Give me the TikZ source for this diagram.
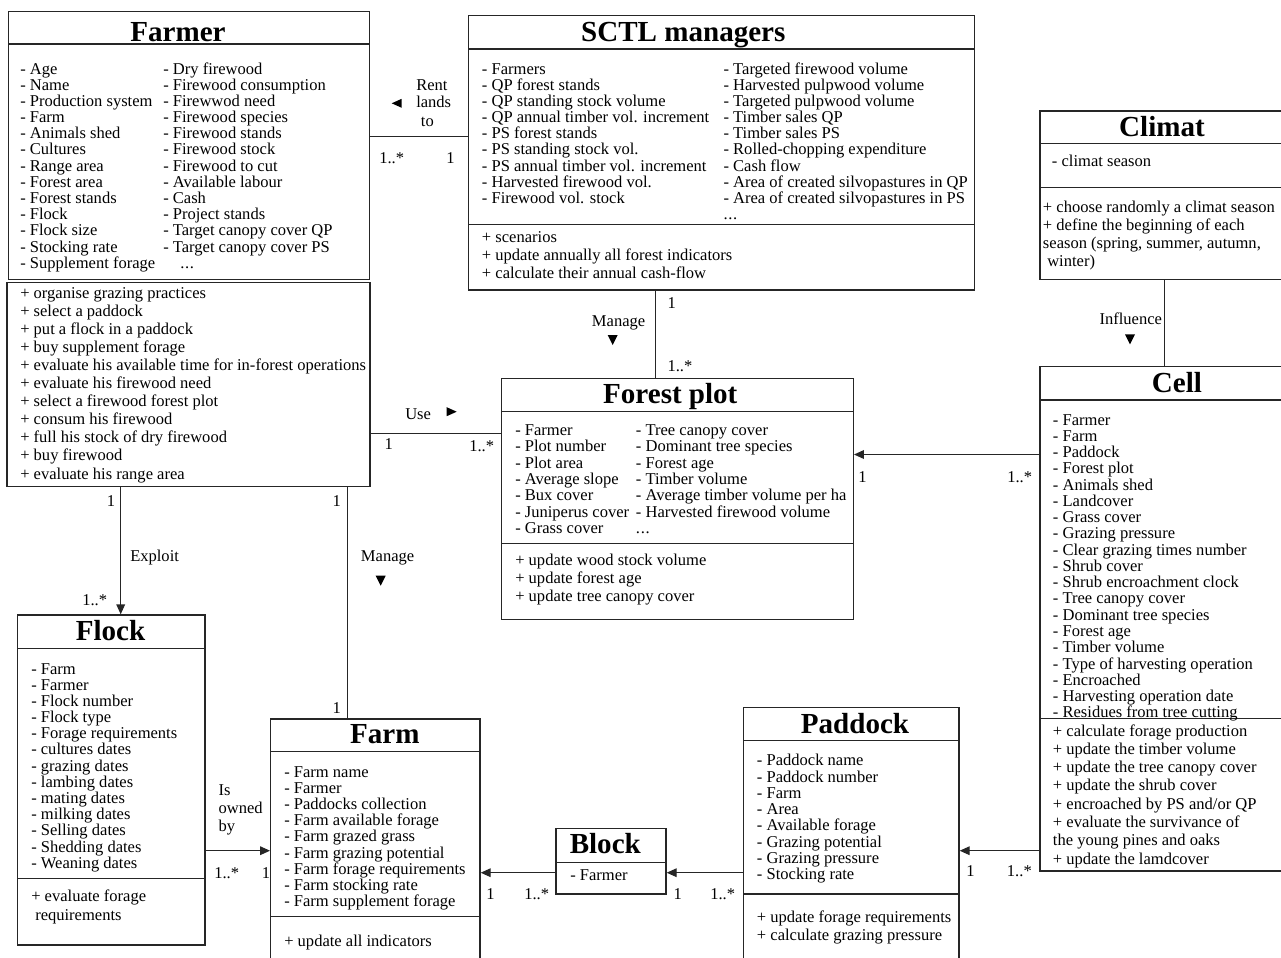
\documentclass[tikz,border=0pt]{standalone}
\usepackage{fontspec}
\setmainfont{Liberation Serif}
\usetikzlibrary{arrows.meta,fit}
\newcommand\txtlines[5]{%
  \foreach \mytxt [count=\k] in {#5}{\node[txt] (#1-\k) at (#2,{#3+(\k-1)*#4}) {\mytxt};}}
\newcommand\mydots{.\kern0.5pt.\kern0.5pt.}
\begin{document}
\begin{tikzpicture}[x=0.75pt,y=-0.75pt,
  ln/.style={line width=1pt, draw=black!85},
  cbox/.style={ln, fit={#1}, inner sep=0pt},
  ttl/.style={font=\fontsize{21.8}{24}\selectfont\bfseries, inner sep=0pt, anchor=base},
  txt/.style={font=\fontsize{12.4}{14}\selectfont, inner sep=0pt, anchor=base west},
  arr/.style={ln, -{Triangle[length=7.5pt,width=6.5pt]}},
  dirR/.pic={\fill[black] (-5,-4.5) -- (5,0) -- (-5,4.5) -- cycle;},
  dirL/.pic={\fill[black] (5,-4.5) -- (-5,0) -- (5,4.5) -- cycle;},
  dirD/.pic={\fill[black] (-5,-5) -- (5,-5) -- (0,5) -- cycle;}]
\clip (0,0) rectangle (1281,957);
\fill[white] (0,0) rectangle (1281,957);

% ---------- Farmer ----------
\node[cbox={(8.3,11.7) (369.3,279.3)}] (farmer) {};
\draw[ln] (8.3,44) -- (369.3,44);
\node[ttl] (farmer-t) at (178,41.7) {Farmer};
\txtlines{fa}{20}{74}{16.19}{- Age,- Name,- Production system,- Farm,- Animals shed,- Cultures,- Range area,- Forest area,- Forest stands,- Flock,- Flock size,- Stocking rate,- Supplement forage}
\txtlines{fb}{163}{74}{16.19}{- Dry firewood,- Firewood consumption,- Firewwod need,- Firewood species,- Firewood stands,- Firewood stock,- Firewood to cut,- Available labour,- Cash,- Project stands,- Target canopy cover QP,- Target canopy cover PS}
\node[txt] (fb-dots) at (180,268.3) {\mydots};

\node[cbox={(7,282.7) (370,486.7)}] (farmerops) {};
\txtlines{fo}{20}{298.3}{18.07}{+ organise grazing practices,+ select a paddock,+ put a flock in a paddock,+ buy supplement forage,+ evaluate his available time for in-forest operations,+ evaluate his firewood need,+ select a firewood forest plot,+ consum his firewood,+ full his stock of dry firewood,+ buy firewood,+ evaluate his range area}

% ---------- SCTL managers ----------
\node[cbox={(468.3,15.7) (974.3,290)}] (sctl) {};
\draw[ln] (468.3,49) -- (974.3,49);
\draw[ln] (468.3,224.3) -- (974.3,224.3);
\node[ttl] (sctl-t) at (683.3,41) {SCTL managers};
\txtlines{sa}{481.7}{74}{16.17}{- Farmers,- QP forest stands,- QP standing stock volume,- QP annual timber vol. increment,- PS forest stands,- PS standing stock vol.,- PS annual timber vol. increment,- Harvested firewood vol.,- Firewood vol. stock}
\txtlines{sb}{723.3}{74}{16.17}{- Targeted firewood volume,- Harvested pulpwood volume,- Targeted pulpwood volume,- Timber sales QP,- Timber sales PS,- Rolled-chopping expenditure,- Cash flow,- Area of created silvopastures in QP,- Area of created silvopastures in PS}
\node[txt] (sb-dots) at (723.3,219.5) {\mydots};
\txtlines{so}{481.7}{242.3}{18.3}{+ scenarios,+ update annually all forest indicators,+ calculate their annual cash-flow}

% ---------- Climat ----------
\node[cbox={(1040,111) (1300,279.3)}] (climat) {};
\draw[ln] (1040,143.3) -- (1300,143.3);
\draw[ln] (1040,187.7) -- (1300,187.7);
\node[ttl] (climat-t) at (1162,136) {Climat};
\node[txt] (ca-1) at (1051.7,166.7) {- climat season};
\node[txt] (co-1) at (1042.7,212) {+ choose randomly a climat season};
\node[txt] (co-2) at (1042.7,230) {+ define the beginning of each};
\node[txt] (co-3) at (1042.7,248) {season (spring, summer, autumn,};
\node[txt] (co-4) at (1047,266) {winter)};

% ---------- Cell ----------
\node[cbox={(1040,366.7) (1300,871)}] (cell) {};
\draw[ln] (1040,400) -- (1300,400);
\draw[ln] (1040,718.3) -- (1300,718.3);
\node[ttl] (cell-t) at (1177,392) {Cell};
\txtlines{ea}{1052.7}{425}{16.27}{- Farmer,- Farm,- Paddock,- Forest plot,- Animals shed,- Landcover,- Grass cover,- Grazing pressure,- Clear grazing times number,- Shrub cover,- Shrub encroachment clock,- Tree canopy cover,- Dominant tree species,- Forest age,- Timber volume,- Type of harvesting operation,- Encroached,- Harvesting operation date,- Residues from tree cutting}
\txtlines{eo}{1052.7}{736}{18.3}{+ calculate forage production,+ update the timber volume,+ update the tree canopy cover,+ update the shrub cover,+ encroached by PS and/or QP,+ evaluate the survivance of,the young pines and oaks,+ update the lamdcover}

% ---------- Forest plot ----------
\node[cbox={(501.7,378.3) (853.3,619.3)}] (forest) {};
\draw[ln] (501.7,411.7) -- (853.3,411.7);
\draw[ln] (501.7,543.3) -- (853.3,543.3);
\node[ttl] (forest-t) at (670.3,403.3) {Forest plot};
\txtlines{pa}{515}{435.7}{16.27}{- Farmer,- Plot number,- Plot area,- Average slope,- Bux cover,- Juniperus cover,- Grass cover}
\txtlines{pb}{635.7}{435.7}{16.27}{- Tree canopy cover,- Dominant tree species,- Forest age,- Timber volume,- Average timber volume per ha,- Harvested firewood volume}
\node[txt] (pb-dots) at (635.7,533.3) {\mydots};
\txtlines{po}{515}{565}{18}{+ update wood stock volume,+ update forest age,+ update tree canopy cover}

% ---------- Flock ----------
\node[cbox={(17.7,615) (205,945)}] (flock) {};
\draw[ln] (17.7,648.3) -- (205,648.3);
\draw[ln] (17.7,878.7) -- (205,878.7);
\node[ttl] (flock-t) at (110.5,640) {Flock};
\txtlines{ka}{31}{674}{16.19}{- Farm,- Farmer,- Flock number,- Flock type,- Forage requirements,- cultures dates,- grazing dates,- lambing dates,- mating dates,- milking dates,- Selling dates,- Shedding dates,- Weaning dates}
\node[txt] (ko-1) at (31,901.7) {+ evaluate forage};
\node[txt] (ko-2) at (35,920) {requirements};

% ---------- Farm ----------
\node[cbox={(270.7,719) (480,975)}] (farm) {};
\draw[ln] (270.7,751.7) -- (480,751.7);
\draw[ln] (270.7,916.7) -- (480,916.7);
\node[ttl] (farm-t) at (384.8,743.3) {Farm};
\txtlines{ma}{284}{777.3}{16.17}{- Farm name,- Farmer,- Paddocks collection,- Farm available forage,- Farm grazed grass,- Farm grazing potential,- Farm forage requirements,- Farm stocking rate,- Farm supplement forage}
\node[txt] (mo-1) at (284,946.7) {+ update all indicators};

% ---------- Block ----------
\node[cbox={(556,828.3) (666,894)}] (block) {};
\draw[ln] (556,862.3) -- (666,862.3);
\node[ttl] (block-t) at (605.3,853.3) {Block};
\node[txt] (ba-1) at (570,880) {- Farmer};

% ---------- Paddock ----------
\node[cbox={(743.3,707.3) (959,975)}] (paddock) {};
\draw[ln] (743.3,740.7) -- (959,740.7);
\draw[ln] (743.3,894) -- (959,894);
\node[ttl] (paddock-t) at (855,733.3) {Paddock};
\txtlines{da}{756.7}{765.7}{16.3}{- Paddock name,- Paddock number,- Farm,- Area,- Available forage,- Grazing potential,- Grazing pressure,- Stocking rate}
\txtlines{do}{756.7}{922.7}{18}{+ update forage requirements,+ calculate grazing pressure}

% ---------- connectors ----------
\coordinate (yRent) at (0,136.7);
\draw[ln] (farmer.east |- yRent) -- (sctl.west |- yRent);
\node[txt] (l-rent1) at (416,90) {Rent};
\node[txt] (l-rent2) at (416,107.7) {lands};
\node[txt] (l-rent3) at (420.7,126) {to};
\pic at (396.7,103.3) {dirL};
\node[txt] (m-rent1) at (379,163.3) {1..*};
\node[txt] (m-rent2) at (446,163.3) {1};

\coordinate (xSF) at (655.7,0);
\draw[ln] (sctl.south -| xSF) -- (forest.north -| xSF);
\node[txt] (l-man1) at (591.7,326) {Manage};
\pic at (612.7,340) {dirD};
\node[txt] (m-sf1) at (667.3,308.3) {1};
\node[txt] (m-sf2) at (667.3,371.7) {1..*};

\coordinate (xCC) at (1164.3,0);
\draw[ln] (climat.south -| xCC) -- (cell.north -| xCC);
\node[txt] (l-inf) at (1099.3,324) {Influence};
\pic at (1130,339.3) {dirD};

\coordinate (yCF) at (0,454.5);
\draw[arr] (cell.west |- yCF) -- (forest.east |- yCF);
\node[txt] (m-cf1) at (858,482) {1};
\node[txt] (m-cf2) at (1007,482) {1..*};

\coordinate (yUse) at (0,433.3);
\draw[ln] (farmerops.east |- yUse) -- (forest.west |- yUse);
\node[txt] (l-use) at (405,419.3) {Use};
\pic at (451.7,411.7) {dirR};
\node[txt] (m-use1) at (384.3,449.3) {1};
\node[txt] (m-use2) at (469,451.7) {1..*};

\coordinate (xExp) at (120.7,0);
\draw[arr] (farmerops.south -| xExp) -- (flock.north -| xExp);
\node[txt] (m-ex1) at (106.7,506) {1};
\node[txt] (l-exp) at (130,561.7) {Exploit};
\node[txt] (m-ex2) at (82,605) {1..*};

\coordinate (xMan) at (347.7,0);
\draw[ln] (farmerops.south -| xMan) -- (farm.north -| xMan);
\node[txt] (m-fm1) at (332.3,506) {1};
\node[txt] (l-man2) at (360.7,561.7) {Manage};
\pic at (380.7,580.7) {dirD};
\node[txt] (m-fm2) at (332.3,713.3) {1};

\coordinate (yOwn) at (0,850.7);
\draw[arr] (flock.east |- yOwn) -- (farm.west |- yOwn);
\node[txt] (l-own1) at (218.3,795) {Is};
\node[txt] (l-own2) at (218.3,813) {owned};
\node[txt] (l-own3) at (218.3,831) {by};
\node[txt] (m-own1) at (214,878.3) {1..*};
\node[txt] (m-own2) at (261.7,878.3) {1};

\coordinate (yBF) at (0,872.7);
\draw[arr] (block.west |- yBF) -- (farm.east |- yBF);
\node[txt] (m-bf1) at (486,899) {1};
\node[txt] (m-bf2) at (524,899) {1..*};

\draw[arr] (paddock.west |- yBF) -- (block.east |- yBF);
\node[txt] (m-pb1) at (673.3,899) {1};
\node[txt] (m-pb2) at (710,899) {1..*};

\coordinate (yCP) at (0,850.7);
\draw[arr] (cell.west |- yCP) -- (paddock.east |- yCP);
\node[txt] (m-cp1) at (966,876) {1};
\node[txt] (m-cp2) at (1006.7,876) {1..*};
\end{tikzpicture}
\end{document}
